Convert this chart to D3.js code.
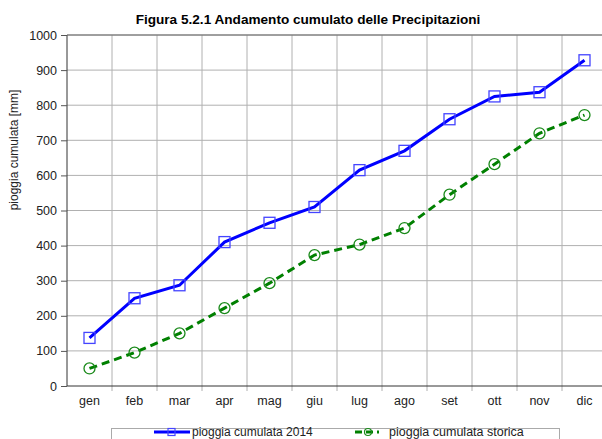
<!DOCTYPE html>
<html>
<head>
<meta charset="utf-8">
<script src="https://cdn.jsdelivr.net/npm/d3@7"></script>
<style>
  body { margin: 0; background: #fff; }
  svg { font-family: "Liberation Sans", Arial, sans-serif; }
  .grid line { stroke: #b0b0b0; stroke-width: 1; }
  .axis text { font-size: 12.5px; fill: #222; }
</style>
</head>
<body>
<svg width="602" height="439"></svg>
<script>
// dati
var mesi = ["gen", "feb", "mar", "apr", "mag", "giu", "lug", "ago", "set", "ott", "nov", "dic"];
var pioggia2014 = [137, 250, 287, 410, 465, 510, 615, 670, 760, 825, 837, 928];
var pioggiaStorica = [50, 95, 150, 222, 293, 373, 403, 450, 545, 632, 720, 772];
var yTicks = [0, 100, 200, 300, 400, 500, 600, 700, 800, 900, 1000];

var svg = d3.select("svg"),
    margin = {top: 35, right: -5, bottom: 53, left: 67},
    width = +svg.attr("width") - margin.left - margin.right,
    height = +svg.attr("height") - margin.top - margin.bottom;

var x = d3.scaleBand().domain(mesi).range([0, width]),
    y = d3.scaleLinear().domain([0, 1000]).range([height, 0]);

var g = svg.append("g")
    .attr("transform", "translate(" + margin.left + "," + margin.top + ")");

// titolo
svg.append("text")
    .attr("x", 308)
    .attr("y", 24)
    .attr("text-anchor", "middle")
    .style("font-size", "13.6px")
    .style("font-weight", "bold")
    .text("Figura 5.2.1 Andamento cumulato delle Precipitazioni");

// griglia orizzontale
g.append("g").attr("class", "grid")
    .selectAll("line").data(yTicks.slice(1)).enter().append("line")
    .attr("x1", 0).attr("x2", width)
    .attr("y1", function (d) { return y(d); })
    .attr("y2", function (d) { return y(d); });

// griglia verticale
g.append("g").attr("class", "grid")
    .selectAll("line").data(mesi.slice(1)).enter().append("line")
    .attr("x1", function (d) { return x(d); })
    .attr("x2", function (d) { return x(d); })
    .attr("y1", 0).attr("y2", height + 5);

// asse y
var yAxis = g.append("g")
    .attr("class", "axis")
    .call(d3.axisLeft(y).tickValues(yTicks).tickFormat(d3.format("d")).tickSize(6).tickPadding(4));
yAxis.select(".domain").attr("stroke", "#333").attr("d", "M0,0V" + height);
yAxis.selectAll(".tick line").attr("stroke", "#555");

// asse x
var xAxis = g.append("g")
    .attr("class", "axis")
    .attr("transform", "translate(0," + height + ")")
    .call(d3.axisBottom(x).tickSize(0).tickPadding(10));
xAxis.select(".domain").attr("stroke", "#333").attr("d", "M0,0H" + width);

g.append("line")
    .attr("x1", 0).attr("x2", width)
    .attr("y1", 0).attr("y2", 0)
    .attr("stroke", "#666");

// titolo asse y
svg.append("text")
    .attr("transform", "translate(18,150) rotate(-90)")
    .attr("text-anchor", "middle")
    .style("font-size", "12px")
    .style("fill", "#222")
    .text("pioggia cumulata [mm]");

var cx = function (d, i) { return x(mesi[i]) + x.bandwidth() / 2; };

var line = d3.line()
    .x(function (d, i) { return cx(d, i); })
    .y(function (d) { return y(d); });

// serie storica
g.append("path")
    .datum(pioggiaStorica)
    .attr("fill", "none")
    .attr("stroke", "#008000")
    .attr("stroke-width", 3)
    .attr("stroke-dasharray", "8,5")
    .attr("d", line);

g.selectAll(".circ").data(pioggiaStorica).enter().append("circle")
    .attr("class", "circ")
    .attr("cx", cx)
    .attr("cy", function (d) { return y(d); })
    .attr("r", 5.5)
    .attr("fill", "none")
    .attr("stroke", "#1a8a1a")
    .attr("stroke-width", 1.3);

// serie 2014
g.append("path")
    .datum(pioggia2014)
    .attr("fill", "none")
    .attr("stroke", "#0000ff")
    .attr("stroke-width", 3)
    .attr("d", line);

g.selectAll(".sq").data(pioggia2014).enter().append("rect")
    .attr("class", "sq")
    .attr("x", function (d, i) { return cx(d, i) - 5.5; })
    .attr("y", function (d) { return y(d) - 5.5; })
    .attr("width", 11)
    .attr("height", 11)
    .attr("fill", "none")
    .attr("stroke", "#4444ff")
    .attr("stroke-width", 1.3);

// legenda
var leg = svg.append("g");
leg.append("rect")
    .attr("x", 111.5).attr("y", 428.5)
    .attr("width", 448).attr("height", 20)
    .attr("fill", "#fff").attr("stroke", "#aaa");

leg.append("line")
    .attr("x1", 154).attr("x2", 190).attr("y1", 432).attr("y2", 432)
    .attr("stroke", "#0000ff").attr("stroke-width", 3);
leg.append("rect")
    .attr("x", 168).attr("y", 428.5).attr("width", 7).attr("height", 7)
    .attr("fill", "none").attr("stroke", "#4444ff").attr("stroke-width", 1.2);
leg.append("text")
    .attr("x", 192).attr("y", 436)
    .style("font-size", "12px").style("fill", "#222")
    .text("pioggia cumulata 2014");

leg.append("line")
    .attr("x1", 355).attr("x2", 385).attr("y1", 432).attr("y2", 432)
    .attr("stroke", "#008000").attr("stroke-width", 3)
    .attr("stroke-dasharray", "7,4,7,4,2");
leg.append("circle")
    .attr("cx", 368).attr("cy", 432).attr("r", 3.5)
    .attr("fill", "none").attr("stroke", "#1a8a1a").attr("stroke-width", 1.2);
leg.append("text")
    .attr("x", 389).attr("y", 436)
    .style("font-size", "12.5px").style("fill", "#222")
    .text("pioggia cumulata storica");
</script>
</body>
</html>
